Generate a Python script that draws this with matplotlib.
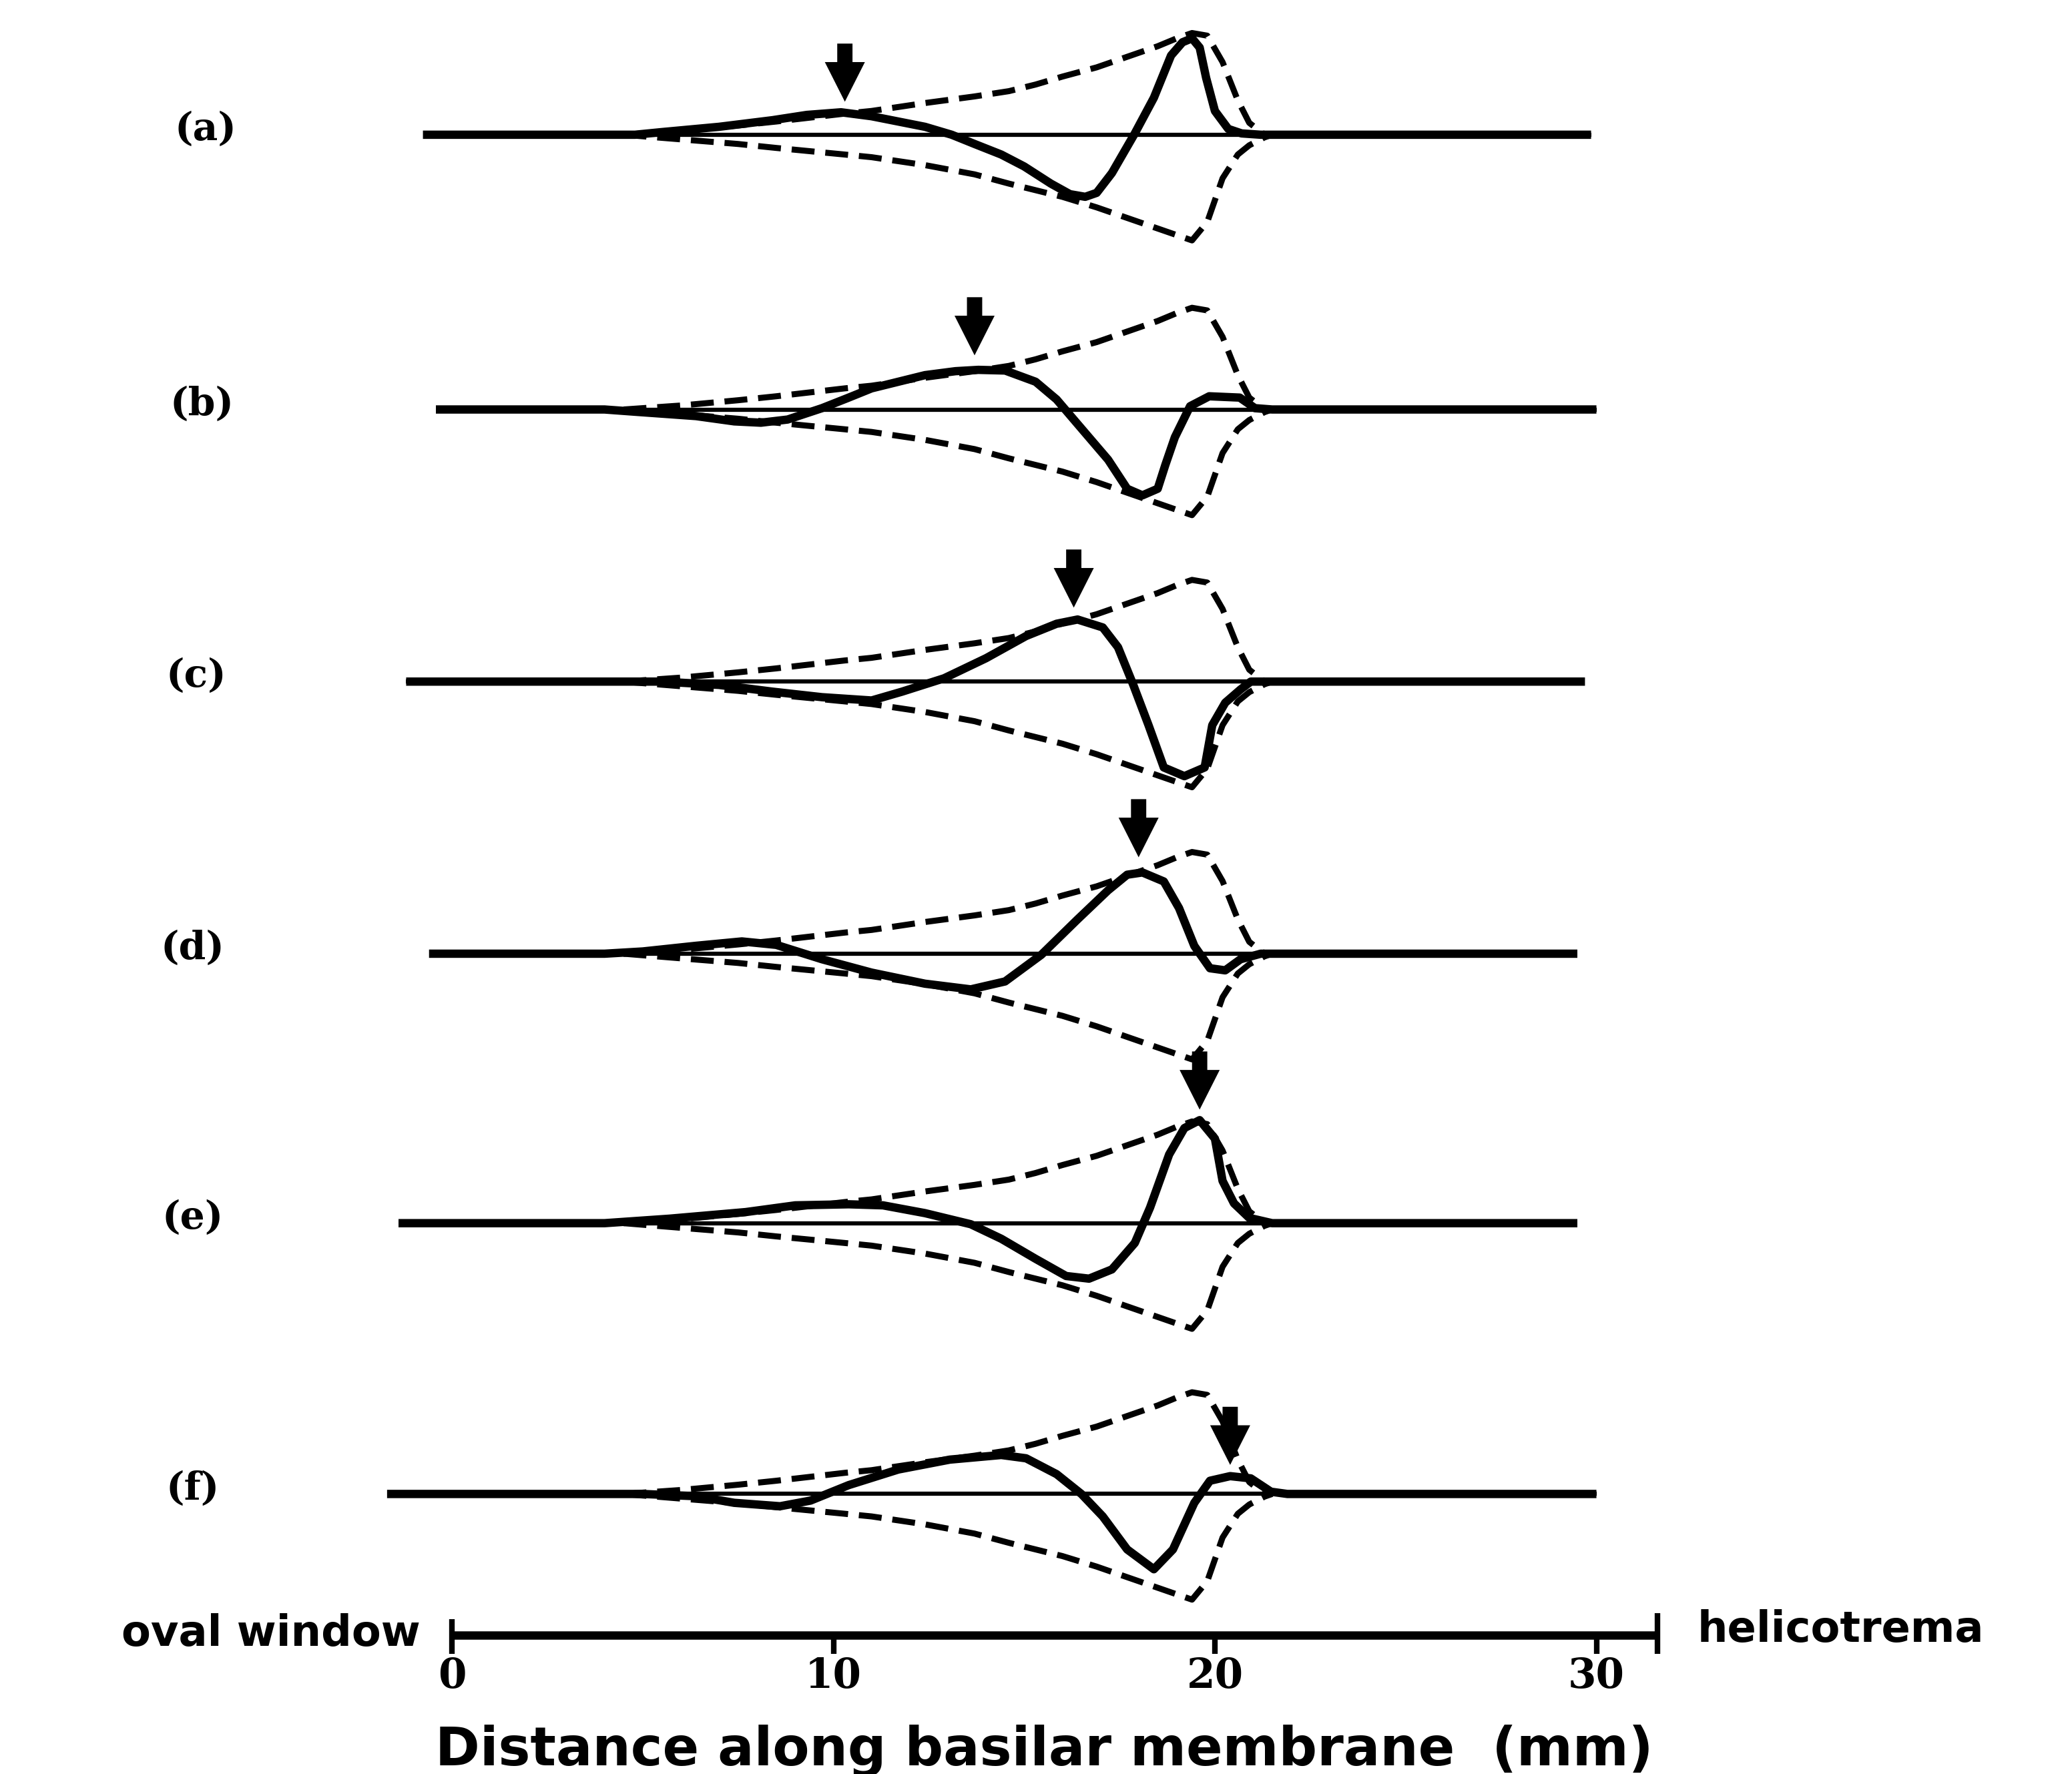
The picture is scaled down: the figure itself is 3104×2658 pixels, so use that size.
import numpy as np
import matplotlib
matplotlib.use("Agg")
import matplotlib.pyplot as plt
from matplotlib.patches import FancyArrow

# ---------------- data (x in mm along basilar membrane, y = displacement, arbitrary units) -------------
panel_labels = ["(a)", "(b)", "(c)", "(d)", "(e)", "(f)"]

# common envelope (upper / lower dashed curves)
env_x  = [4.5, 6.0, 7.5, 8.5, 10.3, 11.0, 12.4, 13.7, 14.6, 15.3, 16.0, 16.9, 17.7, 18.5, 19.0, 19.4, 19.8, 20.2, 20.6, 20.9, 21.3, 21.5]
env_up = [0, 3, 7, 10, 16, 18, 24, 29, 33, 38, 44, 51, 59, 67, 73, 77, 75, 55, 26, 9, 0, 0]
env_lo = [0, -3.5, -7, -10, -15, -17, -23, -30, -37, -42, -47, -55, -63, -71, -76, -80, -66, -33, -15, -8, -2, 0]

# instantaneous waveforms (solid curves)
xa = [-0.76, 4.8, 5.5, 7.0, 8.4, 9.3, 10.2, 11.0, 11.7, 12.4, 13.1, 13.7, 14.4, 15.0, 15.7, 16.2, 16.6, 16.9, 17.3, 17.9, 18.4, 18.85, 19.15, 19.4, 19.6, 19.77, 20.0, 20.35, 20.7, 21.2, 29.86]
ya = [0, 0, 2, 6, 11, 15, 17, 14, 10, 6, 0, -7, -15, -24, -37, -45, -47, -44, -29, 1, 28, 60, 70, 73, 66, 43, 18, 4.4, 1, 0, 0]

xb = [-0.42, 4.0, 4.8, 6.4, 7.4, 8.1, 8.8, 9.7, 10.4, 11.0, 12.4, 13.2, 13.8, 14.5, 15.3, 15.85, 16.4, 17.2, 17.7, 18.1, 18.5, 18.7, 18.95, 19.35, 19.85, 20.65, 21.05, 21.5, 30.0]
yb = [0, 0, -1.7, -5, -9, -10, -7.6, 1, 9, 16, 26, 29, 30, 29.5, 21, 7.6, -11, -38, -60, -65, -60, -42, -21, 2.5, 10, 9, 1, 0, 0]

xc = [-1.2, 5.5, 7.0, 8.4, 9.7, 11.0, 11.8, 12.9, 14.0, 15.05, 15.85, 16.4, 17.06, 17.46, 17.86, 18.26, 18.66, 19.2, 19.73, 19.93, 20.27, 20.67, 20.94, 29.7]
yc = [0, 0, -2.5, -7.6, -11.8, -14.3, -7.6, 2.5, 17.7, 34.5, 43.8, 47, 41, 26, -2.5, -33, -65, -71.6, -65, -33, -16, -6, 0, 0]

xd = [-0.6, 4.0, 5.0, 6.4, 7.6, 8.5, 9.7, 11.0, 12.4, 13.6, 14.5, 15.45, 16.4, 17.2, 17.7, 18.1, 18.66, 19.06, 19.46, 19.87, 20.27, 20.67, 21.2, 29.5]
yd = [0, 0, 1.7, 6, 9.3, 6.7, -4.2, -14.3, -22.7, -27, -21, -0.8, 26, 48, 59.8, 61.5, 54.7, 34.5, 5.9, -11, -12.6, -4.2, 0, 0]

xe = [-1.4, 4.0, 5.7, 7.7, 9.0, 10.4, 11.3, 12.4, 13.6, 14.4, 15.3, 16.1, 16.7, 17.3, 17.9, 18.3, 18.8, 19.2, 19.6, 20.0, 20.2, 20.5, 20.9, 21.5, 29.5]
ye = [0, 0, 3.4, 8.4, 13.5, 14.3, 13.5, 7.6, -0.8, -11.8, -27, -40, -42, -35, -15, 11.8, 52, 72, 78, 64, 32, 15, 4, 0, 0]

xf = [-1.7, 5.0, 6.4, 7.4, 8.6, 9.4, 10.4, 11.7, 13.05, 14.4, 15.05, 15.85, 16.5, 17.06, 17.7, 18.4, 18.9, 19.46, 19.87, 20.4, 20.94, 21.47, 21.9, 30.0]
yf = [0, 0, -1.7, -6.7, -9.3, -5, 6.7, 18.5, 26, 29.5, 27, 15, 0, -17, -42, -57, -42, -6.7, 10, 13.5, 11.8, 1.7, 0, 0]

wave_x = [xa, xb, xc, xd, xe, xf]
wave_y = [ya, yb, yc, yd, ye, yf]

# arrow marking the crest in each panel
arrow_x = [10.3, 13.7, 16.3, 18.0, 19.6, 20.4]
arrow_tip = [25, 41, 56, 73, 86, 22]

# scale bar
scale_ticks = [0, 10, 20, 30]
scale_tick_labels = ["0", "10", "20", "30"]
scale_end = 31.6

# ---------------- layout -------------
PX_PER_MM = 28.87
X0 = 342.0
offsets = [-102, -310, -516, -722, -926, -1131]
label_x = [-6.45, -6.55, -6.7, -6.8, -6.8, -6.8]

fig = plt.figure(figsize=(31.04, 26.58), dpi=100)
ax = fig.add_axes([0, 0, 1, 1])
ax.set_xlim(-X0 / PX_PER_MM, (1568 - X0) / PX_PER_MM)
ax.set_ylim(-1343, 0)
ax.axis("off")

for i in range(6):
    off = offsets[i]
    wx = np.asarray(wave_x[i])
    wy = np.asarray(wave_y[i]) + off
    # resting baseline (thin)
    ax.plot([wx[0], wx[-1]], [off, off], color="black", lw=4.5, solid_capstyle="butt", zorder=1)
    # envelope (dashed)
    ax.plot(env_x, np.asarray(env_up) + off, color="black", lw=6.5, ls=(0, (3.8, 1.8)),
            zorder=2, dash_capstyle="butt")
    ax.plot(env_x, np.asarray(env_lo) + off, color="black", lw=6.5, ls=(0, (3.8, 1.8)),
            zorder=2, dash_capstyle="butt")
    # instantaneous wave (solid, thick)
    ax.plot(wx, wy, color="black", lw=9, solid_joinstyle="round", solid_capstyle="butt", zorder=3)
    # arrow
    tip = arrow_tip[i] + off
    ax.add_patch(FancyArrow(arrow_x[i], tip + 44, 0, -44, width=0.40, head_width=1.05,
                            head_length=30, length_includes_head=True,
                            color="black", lw=0, zorder=4))
    # panel label
    ax.text(label_x[i], off + 4, panel_labels[i], ha="center", va="center",
            fontsize=42, fontweight="bold", family="DejaVu Serif")

# scale bar
ybar = -1238
ax.plot([0, scale_end], [ybar, ybar], color="black", lw=9, solid_capstyle="butt", zorder=3)
ax.plot([0, 0], [-1226, -1252], color="black", lw=6, solid_capstyle="butt")
ax.plot([scale_end, scale_end], [-1221, -1252], color="black", lw=6, solid_capstyle="butt")
for t, lab in zip(scale_ticks, scale_tick_labels):
    if t != 0:
        ax.plot([t, t], [ybar, -1252], color="black", lw=6, solid_capstyle="butt")
    ax.text(t, -1269, lab, ha="center", va="center", fontsize=44, fontweight="bold",
            family="DejaVu Serif")

ax.text(-0.83, -1246, "oval window", ha="right", va="baseline", fontsize=46,
        fontweight="bold", family="DejaVu Sans")
ax.text(32.65, -1243, "helicotrema", ha="left", va="baseline", fontsize=46,
        fontweight="bold", family="DejaVu Sans")
ax.text(15.52, -1336, "Distance along basilar membrane  (mm)", ha="center", va="baseline",
        fontsize=58, fontweight="bold", family="DejaVu Sans")

fig.savefig("out.png", dpi=100)
